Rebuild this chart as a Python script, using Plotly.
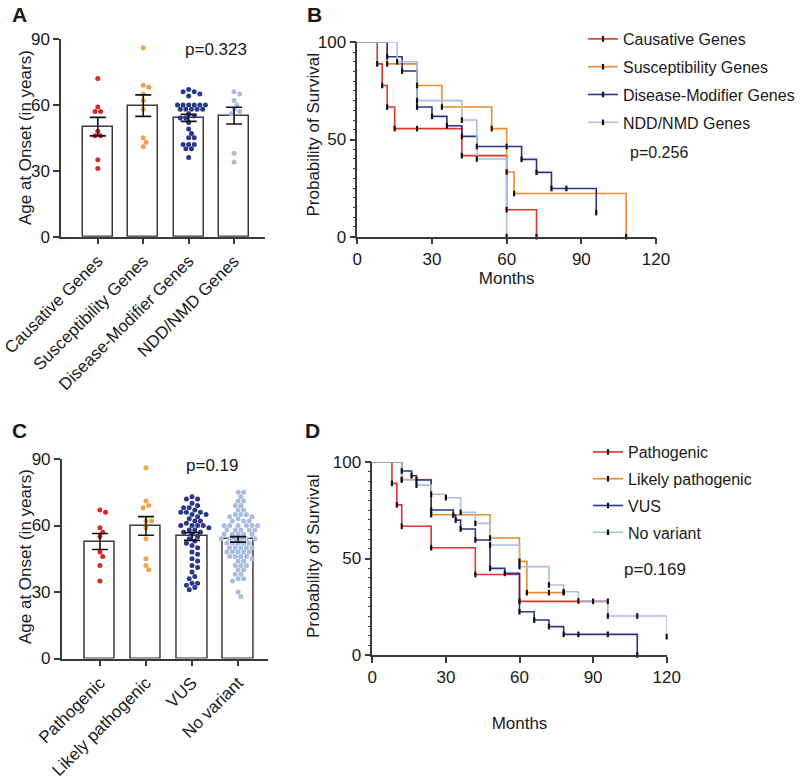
import plotly.graph_objects as go
import numpy as np

# ---------------- DATA ----------------
# Panel A: age at onset by gene group
a_categories = ["Causative Genes", "Susceptibility Genes", "Disease-Modifier Genes", "NDD/NMD Genes"]
a_causative = [72, 59, 57, 57, 48, 46, 46, 35, 31]
a_suscept = [86, 69, 68, 65, 62, 58, 45, 43, 41]
a_disease = [67, 66, 66, 65, 64, 60, 60, 60, 60, 60, 60, 58, 58, 58, 58, 58,
             56, 55, 54, 54, 52, 49, 47, 45, 45, 42, 42, 42, 40, 40, 36]
a_ndd = [66, 65, 62, 60, 58, 57, 56, 38, 34]
a_pvalue = "p=0.323"

# Panel C: age at onset by variant class
c_categories = ["Pathogenic", "Likely pathogenic", "VUS", "No variant"]
c_path = [67, 66, 59, 57, 55, 48, 46, 42, 35]
c_likely = [86, 71, 69, 68, 62, 62, 59, 54, 45, 42, 40]
c_vus = [73, 72, 72, 70, 69, 68, 68, 67, 66, 66, 66, 65, 65, 64, 63, 62, 62, 61,
         60, 60, 60, 60, 59, 58, 58, 57, 57, 56, 55, 54, 53, 52, 51, 50, 48, 47,
         45, 44, 42, 41, 39, 37, 36, 34, 34, 33, 32, 31]
c_novar = [75, 75, 73, 71, 71, 69, 69, 67, 67, 65, 65, 65, 64, 64, 63, 62, 62, 62,
           60, 60, 60, 60, 60, 60, 58, 58, 58, 58, 58, 56, 56, 56, 56, 56, 54, 54,
           54, 54, 54, 54, 52, 52, 52, 52, 52, 50, 50, 50, 50, 50, 48, 48, 48, 48,
           48, 46, 46, 46, 46, 45, 44, 44, 42, 42, 42, 40, 40, 38, 38, 36, 36, 35, 30, 28]
c_pvalue = "p=0.19"

# Panel B: Kaplan-Meier by gene group (months, % survival)
b_names = ["Causative Genes", "Susceptibility Genes", "Disease-Modifier Genes", "NDD/NMD Genes"]
b_caus_t = [0, 8, 10, 12, 15, 42, 60, 72]
b_caus_s = [100, 88.9, 77.8, 66.7, 55.6, 41.7, 13.9, 0]
b_caus_cens_t = [24]
b_caus_cens_s = [55.6]
b_caus_end = 72
b_susc_t = [0, 12, 24, 34, 54, 60, 63, 108]
b_susc_s = [100, 88.9, 77.8, 66.7, 55.6, 33.3, 22.2, 0]
b_susc_cens_t = []
b_susc_cens_s = []
b_susc_end = 108
b_dis_t = [0, 12, 18, 24, 30, 36, 42, 48, 66, 72, 78, 96]
b_dis_s = [100, 92.6, 85.2, 66.7, 61.9, 57.1, 51.6, 46.4, 39.8, 33.1, 24.8, 12.4]
b_dis_cens_t = [60, 84]
b_dis_cens_s = [46.4, 24.8]
b_dis_end = 96
b_ndd_t = [0, 16, 24, 42, 48, 60]
b_ndd_s = [100, 90, 70, 60, 40, 0]
b_ndd_cens_t = []
b_ndd_cens_s = []
b_ndd_end = 60
b_pvalue = "p=0.256"

# Panel D: Kaplan-Meier by variant class
d_names = ["Pathogenic", "Likely pathogenic", "VUS", "No variant"]
d_path_t = [0, 8, 10, 12, 24, 42, 60]
d_path_s = [100, 88.9, 77.8, 66.7, 55.6, 41.7, 27.8]
d_path_cens_t = [90, 96]
d_path_cens_s = [27.8, 27.8]
d_path_end = 96
d_lik_t = [0, 12, 24, 48, 60, 63]
d_lik_s = [100, 90.9, 72.7, 60.6, 48.5, 32.3]
d_lik_cens_t = [72, 78]
d_lik_cens_s = [32.3, 32.3]
d_lik_end = 78
d_vus_t = [0, 12, 16, 18, 24, 33, 34, 36, 42, 48, 54, 60, 66, 72, 78, 108]
d_vus_s = [100, 95.3, 92.9, 90.7, 75.1, 72.5, 69.9, 65.3, 59.6, 44.9, 42.3, 22.4, 18.1, 14.7, 10.7, 0]
d_vus_cens_t = [84, 96]
d_vus_cens_s = [10.7, 10.7]
d_vus_end = 108
d_nov_t = [0, 12, 18, 24, 30, 36, 42, 48, 60, 72, 78, 84, 96, 120]
d_nov_s = [100, 90.7, 88, 83.3, 81.5, 73.9, 68.2, 57, 45.8, 36.3, 32.8, 28, 20.2, 9.5]
d_nov_cens_t = [108]
d_nov_cens_s = [20.2]
d_nov_end = 120
d_pvalue = "p=0.169"

# ---------------- STYLE ----------------
FONT = "Arial, 'Liberation Sans', Helvetica, sans-serif"
AXC = "#3a3a3a"
DOT_COLORS = ["#D62A27", "#F2A24C", "#2B388C", "#A8BDE1"]
LINE_COLORS = ["#E2332B", "#EE8B2E", "#2A3487", "#A9BFE3"]
W, H = 800, 780


def px2x(px):
    return px / W


def px2y(py):
    return 1 - py / H


def swarm(vals, ypx, xpx, grid, dmin):
    """Deterministic beeswarm on a horizontal grid (offsets in category units)."""
    order = sorted(range(len(vals)), key=lambda i: -vals[i])
    placed = []
    offs = [0.0] * len(vals)
    cands = [0.0]
    for j in range(1, 40):
        cands += [j * grid, -j * grid]
    for i in order:
        y = vals[i] * ypx
        chosen = 0.0
        for c in cands:
            if all((c - qx) ** 2 + (y - qy) ** 2 >= dmin * dmin for qx, qy in placed):
                chosen = c
                break
        placed.append((chosen, y))
        offs[i] = chosen / xpx
    return offs


fig = go.Figure()

# ---------------- BAR/SCATTER PANELS ----------------
def bar_panel(groups, cats, xa, ya, ypx, xpx):
    means = [float(np.mean(g)) for g in groups]
    sems = [float(np.std(g, ddof=1) / np.sqrt(len(g))) for g in groups]
    fig.add_trace(go.Bar(x=list(range(len(cats))), y=means, width=0.66,
                         marker=dict(color="white", line=dict(color=AXC, width=1.5)),
                         xaxis=xa, yaxis=ya, showlegend=False, hoverinfo="skip"))
    for k, g in enumerate(groups):
        offs = swarm(g, ypx, xpx, 2.8, 4.8)
        fig.add_trace(go.Scatter(x=[k + o for o in offs], y=g, mode="markers",
                                 marker=dict(size=5, color=DOT_COLORS[k]),
                                 xaxis=xa, yaxis=ya, showlegend=False, cliponaxis=False))
    fig.add_trace(go.Scatter(x=list(range(len(cats))), y=means, mode="markers",
                             marker=dict(size=1, opacity=0),
                             error_y=dict(type="data", array=sems, color="#111111",
                                          thickness=1.6, width=8),
                             xaxis=xa, yaxis=ya, showlegend=False, hoverinfo="skip"))


bar_panel([a_causative, a_suscept, a_disease, a_ndd], a_categories, "x", "y", 2.197, 45.5)
bar_panel([c_path, c_likely, c_vus, c_novar], c_categories, "x3", "y3", 2.217, 46.0)

# ---------------- KM PANELS ----------------
TICK = dict(symbol="line-ns", size=4, color="#111111", line=dict(color="#111111", width=2.2))


def km_panel(series, names, xa, ya, legend):
    for k, (t, s, ct, cs, end) in enumerate(series):
        xs = list(t) + [end]
        ys = list(s) + [s[-1]]
        fig.add_trace(go.Scatter(x=xs, y=ys, mode="lines", line=dict(color=LINE_COLORS[k], width=1.6, shape="hv"),
                                 xaxis=xa, yaxis=ya, showlegend=False, cliponaxis=False))
    for k, (t, s, ct, cs, end) in enumerate(series):
        mx = list(t[1:]) + list(ct)
        my = list(s[1:]) + list(cs)
        fig.add_trace(go.Scatter(x=mx, y=my, mode="markers", marker=TICK,
                                 xaxis=xa, yaxis=ya, showlegend=False, cliponaxis=False))
    for k, nm in enumerate(names):
        fig.add_trace(go.Scatter(x=[None], y=[None], mode="lines+markers", name=nm,
                                 line=dict(color=LINE_COLORS[k], width=1.6), marker=TICK,
                                 xaxis=xa, yaxis=ya, legend=legend, legendgroup=legend + str(k)))


km_panel([(b_caus_t, b_caus_s, b_caus_cens_t, b_caus_cens_s, b_caus_end),
          (b_susc_t, b_susc_s, b_susc_cens_t, b_susc_cens_s, b_susc_end),
          (b_dis_t, b_dis_s, b_dis_cens_t, b_dis_cens_s, b_dis_end),
          (b_ndd_t, b_ndd_s, b_ndd_cens_t, b_ndd_cens_s, b_ndd_end)], b_names, "x2", "y2", "legend")
km_panel([(d_path_t, d_path_s, d_path_cens_t, d_path_cens_s, d_path_end),
          (d_lik_t, d_lik_s, d_lik_cens_t, d_lik_cens_s, d_lik_end),
          (d_vus_t, d_vus_s, d_vus_cens_t, d_vus_cens_s, d_vus_end),
          (d_nov_t, d_nov_s, d_nov_cens_t, d_nov_cens_s, d_nov_end)], d_names, "x4", "y4", "legend2")

# ---------------- AXES ----------------
common = dict(showline=True, linecolor=AXC, linewidth=1.5, ticks="outside", tickcolor=AXC,
              tickwidth=1.5, showgrid=False, zeroline=False, automargin=False,
              tickfont=dict(size=17, color="#1a1a1a"))

fig.update_layout(
    xaxis=dict(common, domain=[px2x(61), px2x(265)], range=[-0.81, 3.68], anchor="y",
               tickvals=list(range(4)), ticktext=a_categories, tickangle=-45, ticklen=6),
    yaxis=dict(common, domain=[px2y(236.7), px2y(39)], range=[0, 90], anchor="x",
               tickvals=[0, 30, 60, 90], ticklen=6),
    xaxis2=dict(common, domain=[px2x(357.3), px2x(656)], range=[0, 120], anchor="y2",
                tickvals=[0, 30, 60, 90, 120], ticklen=6,
                title=dict(text="Months", font=dict(size=17), standoff=4)),
    yaxis2=dict(common, domain=[px2y(236.7), px2y(42.3)], range=[0, 100], anchor="x2",
                tickvals=[0, 50, 100], ticklen=6,
                minor=dict(dtick=5, ticks="outside", ticklen=3, tickcolor=AXC, tickwidth=1.2, showgrid=False)),
    xaxis3=dict(common, domain=[px2x(61.7), px2x(268)], range=[-0.83, 3.65], anchor="y3",
                tickvals=list(range(4)), ticktext=c_categories, tickangle=-45, ticklen=6),
    yaxis3=dict(common, domain=[px2y(658.5), px2y(459)], range=[0, 90], anchor="x3",
                tickvals=[0, 30, 60, 90], ticklen=6),
    xaxis4=dict(common, domain=[px2x(372.3), px2x(666.7)], range=[0, 120], anchor="y4",
                tickvals=[0, 30, 60, 90, 120], ticklen=6,
                title=dict(text="Months", font=dict(size=17), standoff=31)),
    yaxis4=dict(common, domain=[px2y(655), px2y(462)], range=[0, 100], anchor="x4",
                tickvals=[0, 50, 100], ticklen=6,
                minor=dict(dtick=5, ticks="outside", ticklen=3, tickcolor=AXC, tickwidth=1.2, showgrid=False)),
)

fig.update_layout(
    width=W, height=H, margin=dict(l=0, r=0, t=0, b=0, autoexpand=False),
    paper_bgcolor="white", plot_bgcolor="white",
    font=dict(family=FONT, size=16, color="#1a1a1a"),
    bargap=0,
    legend=dict(x=px2x(583), y=px2y(22), xanchor="left", yanchor="top",
                font=dict(size=16), bgcolor="rgba(0,0,0,0)", tracegroupgap=4, itemwidth=30),
    legend2=dict(x=px2x(588), y=px2y(435), xanchor="left", yanchor="top",
                 font=dict(size=16), bgcolor="rgba(0,0,0,0)", tracegroupgap=3, itemwidth=30),
)

ann = [
    dict(text="<b>A</b>", x=px2x(10), y=px2y(14), xanchor="left", yanchor="middle", font=dict(size=21)),
    dict(text="<b>B</b>", x=px2x(305), y=px2y(14), xanchor="left", yanchor="middle", font=dict(size=21)),
    dict(text="<b>C</b>", x=px2x(10), y=px2y(430), xanchor="left", yanchor="middle", font=dict(size=21)),
    dict(text="<b>D</b>", x=px2x(303), y=px2y(430), xanchor="left", yanchor="middle", font=dict(size=21)),
    dict(text=a_pvalue, x=px2x(216), y=px2y(50), xanchor="center", yanchor="middle", font=dict(size=17)),
    dict(text=c_pvalue, x=px2x(212), y=px2y(465), xanchor="center", yanchor="middle", font=dict(size=17)),
    dict(text=b_pvalue, x=px2x(628), y=px2y(153), xanchor="left", yanchor="middle", font=dict(size=16)),
    dict(text=d_pvalue, x=px2x(622), y=px2y(569), xanchor="left", yanchor="middle", font=dict(size=17)),
    # y-axis titles
    dict(text="Age at Onset (in years)", x=px2x(25), y=px2y(138), textangle=-90,
         xanchor="center", yanchor="middle", font=dict(size=17)),
    dict(text="Probability of Survival", x=px2x(312.5), y=px2y(135), textangle=-90,
         xanchor="center", yanchor="middle", font=dict(size=17)),
    dict(text="Age at Onset (in years)", x=px2x(25), y=px2y(557), textangle=-90,
         xanchor="center", yanchor="middle", font=dict(size=17)),
    dict(text="Probability of Survival", x=px2x(313), y=px2y(557), textangle=-90,
         xanchor="center", yanchor="middle", font=dict(size=17)),
]
for a in ann:
    a.update(xref="paper", yref="paper", showarrow=False)
fig.update_layout(annotations=ann)

fig.write_html("out.html")
